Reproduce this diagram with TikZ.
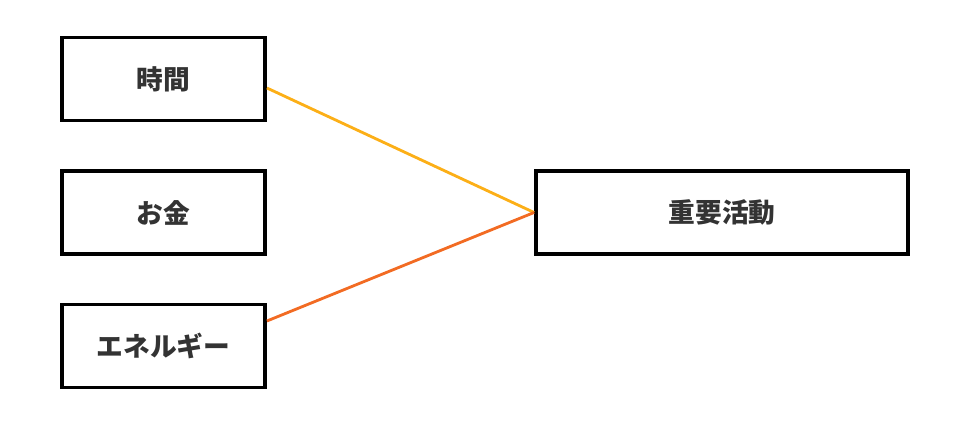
\documentclass[tikz,border=0pt]{standalone}
\usepackage{fontspec}
\newfontfamily\jpfont{Noto Sans CJK JP}[BoldFont={Noto Sans CJK JP Black}]
\definecolor{textgray}{HTML}{333333}
\definecolor{lineyellow}{HTML}{FCAF17}
\definecolor{lineorange}{HTML}{F26B23}

\tikzset{
	itembox/.style={draw=black, line width=2.2pt, minimum width=4.06cm, minimum height=1.66cm,
		inner sep=0pt, text=textgray, font=\jpfont\bfseries\fontsize{15.2}{18}\selectfont},
	link/.style={line width=1.6pt}
}

\begin{document}
\begin{tikzpicture}
				\useasboundingbox (0,0) rectangle (19.38,-8.5);
				\node[itembox] (jikan) at (3.27,-1.58) {時間};
				\node[itembox] (okane) at (3.27,-4.25) {お金};
				\node[itembox] (energy) at (3.27,-6.92) {エネルギー};
				\node[itembox, minimum width=7.44cm] (katsudo) at (14.44,-4.25) {重要活動};
				\draw[link, lineyellow] ([yshift=-0.18cm]jikan.east) -- (katsudo.west);
				\draw[link, lineorange] ([yshift=0.5cm]energy.east) -- (katsudo.west);
			\end{tikzpicture}
\end{document}
